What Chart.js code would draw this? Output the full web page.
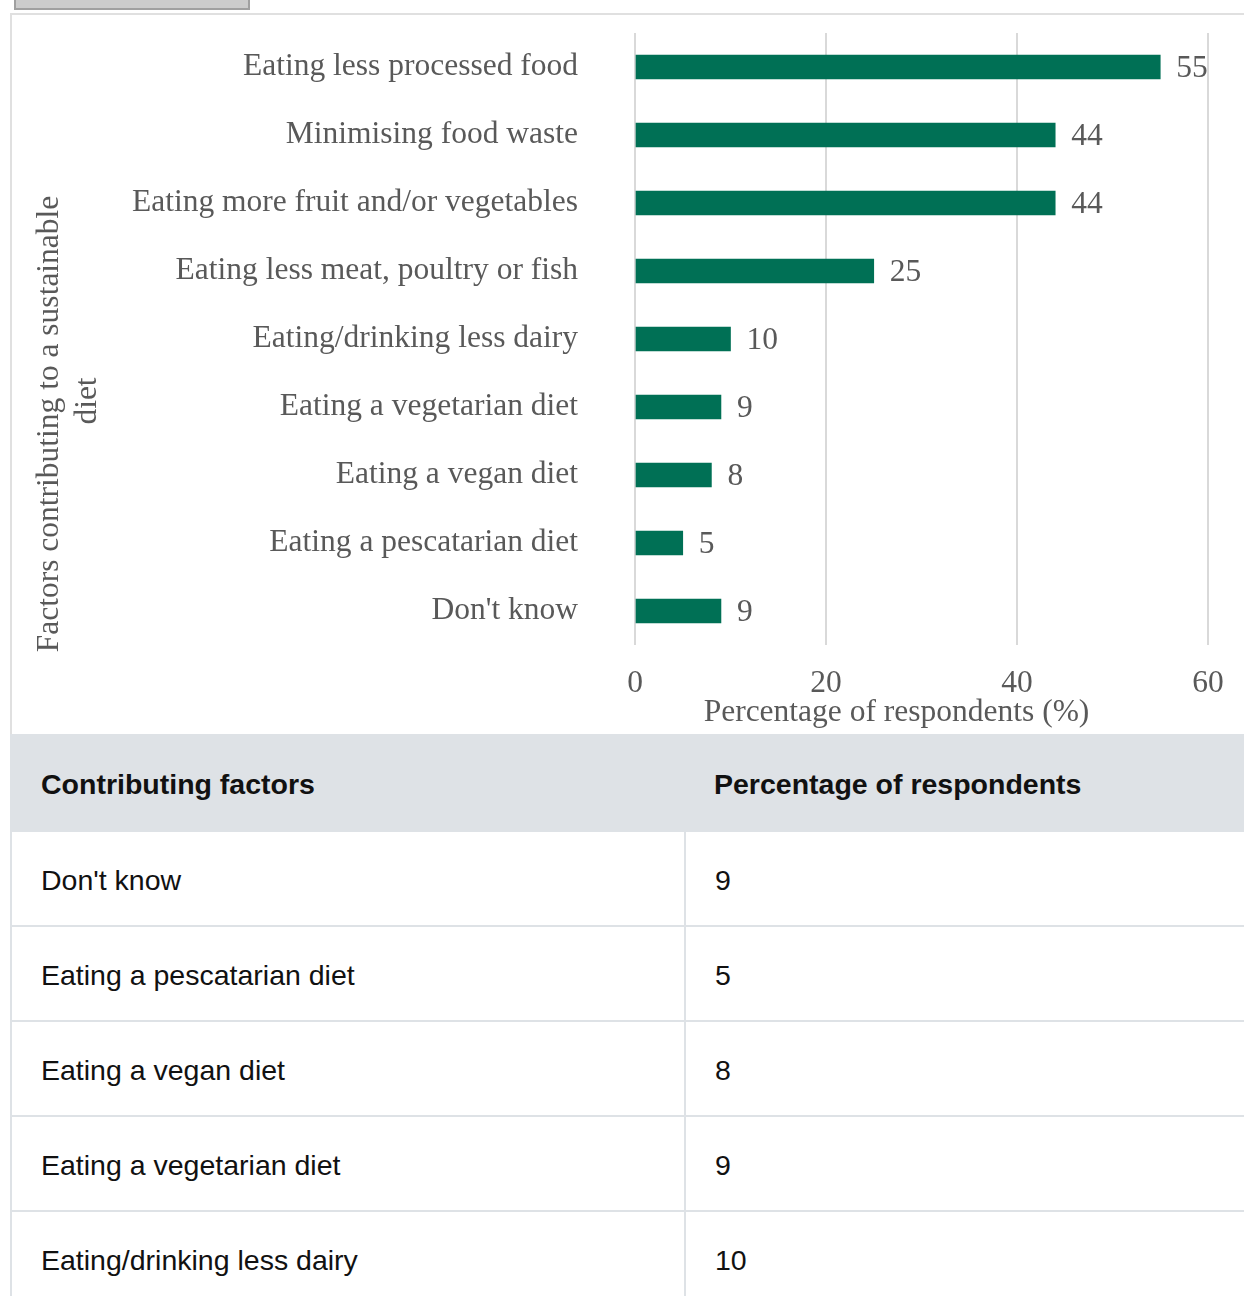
<!DOCTYPE html>
<html>
<head>
<meta charset="utf-8">
<script src="https://cdn.jsdelivr.net/npm/chart.js@4.4.1/dist/chart.umd.min.js"></script>
<style>
  html, body { margin: 0; padding: 0; background: #fff; overflow: hidden; }
  #btn { position: absolute; left: 14px; top: -4px; width: 232px; height: 10px; background: #cccccc; border: 2px solid #a0a0a0; }
  #box { position: absolute; left: 10px; top: 13px; width: 1240px; height: 719px; border: 2px solid #e0e0e0; border-bottom: none; }
  #wrap { position: absolute; left: 0; top: 0; width: 1232px; height: 719px; }
  table { position: absolute; left: 10px; top: 734px; width: 1244px; border-collapse: collapse; font-family: "Liberation Sans", Arial, sans-serif; font-size: 28.5px; color: #111; }
  th, td { text-align: left; padding: 0 0 0 29px; }
  th { background: #dee2e6; height: 96px; font-weight: bold; padding-top: 2px; }
  td { border-bottom: 2px solid #dee2e6; height: 90px; padding-top: 3px; }
  tr > :first-child { width: 643px; border-left: 2px solid #dee2e6; }
  td + td { border-left: 2px solid #dee2e6; }
</style>
</head>
<body>
<div id="btn"></div>
<div id="box"><div id="wrap"><canvas id="chart_factors"></canvas></div></div>
<table id="tbl"><thead><tr><th>Contributing factors</th><th>Percentage of respondents</th></tr></thead><tbody></tbody></table>
<script>
var factorLabels = [
  'Eating less processed food',
  'Minimising food waste',
  'Eating more fruit and/or vegetables',
  'Eating less meat, poultry or fish',
  'Eating/drinking less dairy',
  'Eating a vegetarian diet',
  'Eating a vegan diet',
  'Eating a pescatarian diet',
  "Don't know"
];
var respondentValues = [55, 44, 44, 25, 10, 9, 8, 5, 9];
var xTicks = [0, 20, 40, 60];
var tableOrder = [
  "Don't know",
  'Eating a pescatarian diet',
  'Eating a vegan diet',
  'Eating a vegetarian diet',
  'Eating/drinking less dairy',
  'Eating less meat, poultry or fish',
  'Eating less processed food',
  'Eating more fruit and/or vegetables',
  'Minimising food waste'
];

var textColor = '#595959';
var serif = '"Liberation Serif", "Times New Roman", serif';

// table under the chart
var tbody = document.querySelector('#tbl tbody');
tableOrder.forEach(function(name) {
  var tr = document.createElement('tr');
  var v = respondentValues[factorLabels.indexOf(name)];
  tr.innerHTML = '<td></td><td></td>';
  tr.children[0].textContent = name;
  tr.children[1].textContent = v;
  tbody.appendChild(tr);
});

var chart_factors = new Chart(document.getElementById('chart_factors'), {
    type: 'bar',
    data: {
        labels: factorLabels,
        datasets: [{
            label: 'Percentage of respondents',
            data: respondentValues,
            backgroundColor: '#007055',
            borderWidth: 0,
            barThickness: 24
        }]
    },
    options: {
        indexAxis: 'y',
        animation: false,
        responsive: true,
        maintainAspectRatio: false,
        layout: { padding: { top: 18, right: 36, left: 0, bottom: 0 } },
        plugins: {
            legend: { display: false },
            tooltip: { enabled: false }
        },
        scales: {
            x: {
                type: 'linear',
                min: 0,
                max: 60,
                afterBuildTicks: function(scale) {
                    scale.ticks = xTicks.map(function(v) { return { value: v }; });
                },
                afterFit: function(scale) { scale.height = 89; },
                grid: { color: '#d9d9d9', lineWidth: 2, drawTicks: false },
                border: { display: false },
                ticks: { color: textColor, padding: 20, font: { family: serif, size: 31.5 } }
            },
            y: {
                afterFit: function(scale) {
                    scale.width = 623;
                    scale.paddingTop = 0;
                    scale.paddingBottom = 0;
                },
                grid: { display: false, drawTicks: false },
                border: { display: false },
                ticks: { color: textColor, padding: 57, font: { family: serif, size: 31.5 } }
            }
        }
    },
    plugins: [{
        id: 'valueLabels',
        afterDatasetsDraw: function(chart) {
            var ctx = chart.ctx;
            var meta = chart.getDatasetMeta(0);
            ctx.save();
            ctx.fillStyle = textColor;
            ctx.font = '31.5px ' + serif;
            ctx.textAlign = 'left';
            ctx.textBaseline = 'middle';
            meta.data.forEach(function(bar, i) {
                ctx.fillText(String(respondentValues[i]), bar.x + 16, bar.y + 2);
            });
            ctx.restore();
        }
    }, {
        id: 'axisTitles',
        afterDraw: function(chart) {
            var ctx = chart.ctx;
            var area = chart.chartArea;
            var midY = (area.top + area.bottom) / 2;
            var midX = (area.left + area.right) / 2;
            ctx.save();
            ctx.fillStyle = textColor;
            ctx.font = '31.5px ' + serif;
            ctx.textAlign = 'center';
            ctx.textBaseline = 'middle';
            ctx.fillText('Percentage of respondents (%)', midX - 25, area.bottom + 68);
            ctx.translate(38, midY + 85);
            ctx.rotate(-Math.PI / 2);
            ctx.fillText('Factors contributing to a sustainable', 0, 0);
            ctx.fillText('diet', 23, 38);
            ctx.restore();
        }
    }]
});
</script>
</body>
</html>
